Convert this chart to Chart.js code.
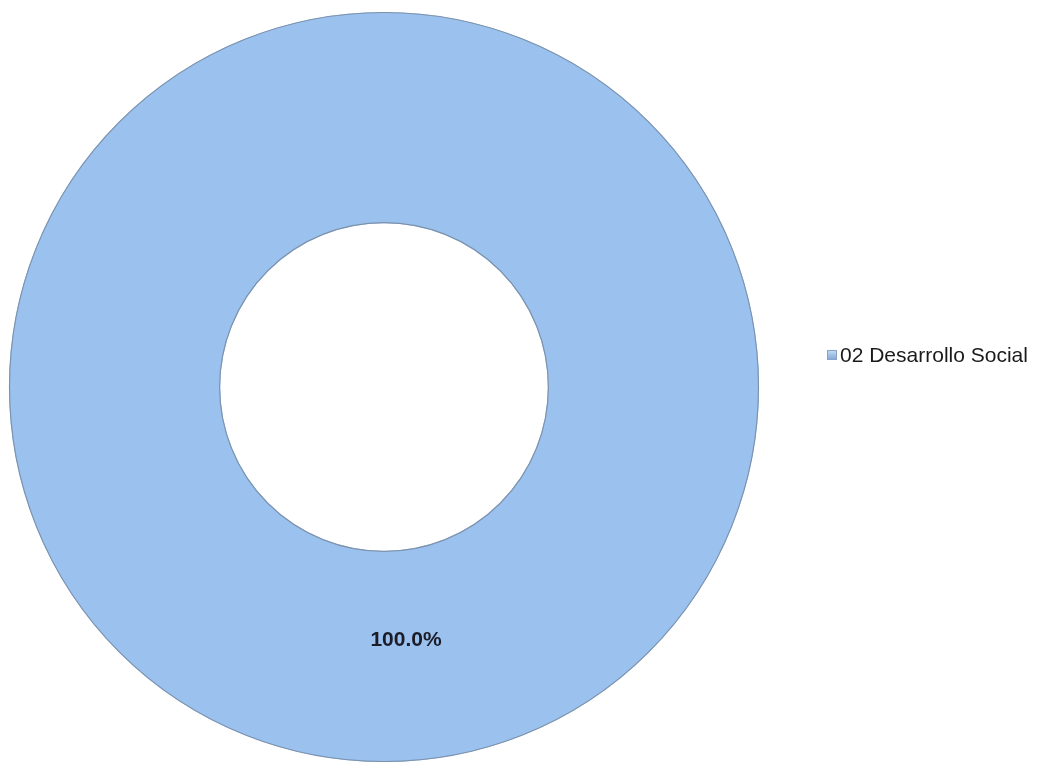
<!DOCTYPE html>
<html>
<head>
<meta charset="utf-8">
<script src="https://cdn.jsdelivr.net/npm/chart.js@4.4.1/dist/chart.umd.min.js"></script>
<style>
    html, body { margin: 0; padding: 0; background: #ffffff; }
    #wrap { position: relative; width: 1062px; height: 766px; }
</style>
</head>
<body>
<div id="wrap"><canvas id="donut" width="1062" height="766"></canvas></div>
<script>
// Chart data
const categories = ['02 Desarrollo Social'];
const shares = [100.0];
const sliceColors = ['#9bc2ef'];

// thin outline around ring edges (no seam line where the single slice closes)
const ringEdges = {
    id: 'ringEdges',
    afterDatasetsDraw(chart) {
        const ctx = chart.ctx;
        const arc = chart.getDatasetMeta(0).data[0];
        if (!arc) return;
        ctx.save();
        ctx.strokeStyle = '#7d93ad';
        ctx.lineWidth = 1.2;
        [arc.outerRadius - 0.5, arc.innerRadius + 0.5].forEach(r => {
            ctx.beginPath();
            ctx.arc(arc.x, arc.y, r, 0, Math.PI * 2);
            ctx.stroke();
        });
        ctx.restore();
    }
};

// draws the percentage label inside the ring, like the Excel data label
const percentLabels = {
    id: 'percentLabels',
    afterDatasetsDraw(chart) {
        const ctx = chart.ctx;
        const meta = chart.getDatasetMeta(0);
        const total = shares.reduce((a, b) => a + b, 0);
        meta.data.forEach((arc, i) => {
            const pos = arc.tooltipPosition();
            ctx.save();
            ctx.font = 'bold 21px "Liberation Sans", Arial, sans-serif';
            ctx.fillStyle = '#1c1c28';
            ctx.textAlign = 'center';
            ctx.textBaseline = 'middle';
            // nudge a bit like the original label sits slightly inward
            ctx.fillText((shares[i] / total * 100).toFixed(1) + '%', pos.x + 22, pos.y - 16);
            ctx.restore();
        });
    }
};

// simple legend to the right of the ring
const sideLegend = {
    id: 'sideLegend',
    afterDraw(chart) {
        const ctx = chart.ctx;
        const area = chart.chartArea;
        const y = (area.top + area.bottom) / 2 - 32;
        let x = area.right + 68;
        categories.forEach((name, i) => {
            ctx.save();
            const g = ctx.createLinearGradient(x, y - 5, x, y + 5);
            g.addColorStop(0, '#c9ddf6');
            g.addColorStop(1, '#7fa6d6');
            ctx.fillStyle = g;
            ctx.fillRect(x, y - 5, 10, 10);
            ctx.strokeStyle = '#8aa4c4';
            ctx.lineWidth = 1;
            ctx.strokeRect(x + 0.5, y - 4.5, 9, 9);
            ctx.font = '21px "Liberation Sans", Arial, sans-serif';
            ctx.fillStyle = '#1a1a1a';
            ctx.textAlign = 'left';
            ctx.textBaseline = 'middle';
            ctx.fillText(name, x + 13, y + 1);
            ctx.restore();
        });
    }
};

const ctx = document.getElementById('donut');
new Chart(ctx, {
    type: 'doughnut',
    data: {
        labels: categories,
        datasets: [{
            data: shares,
            backgroundColor: sliceColors,
            borderWidth: 0
        }]
    },
    options: {
        responsive: false,
        animation: false,
        cutout: '43.7%',
        layout: {
            padding: { left: 9, right: 303, top: 8, bottom: 0 }
        },
        plugins: {
            legend: { display: false },
            tooltip: { enabled: false }
        }
    },
    plugins: [ringEdges, percentLabels, sideLegend]
});
</script>
</body>
</html>
